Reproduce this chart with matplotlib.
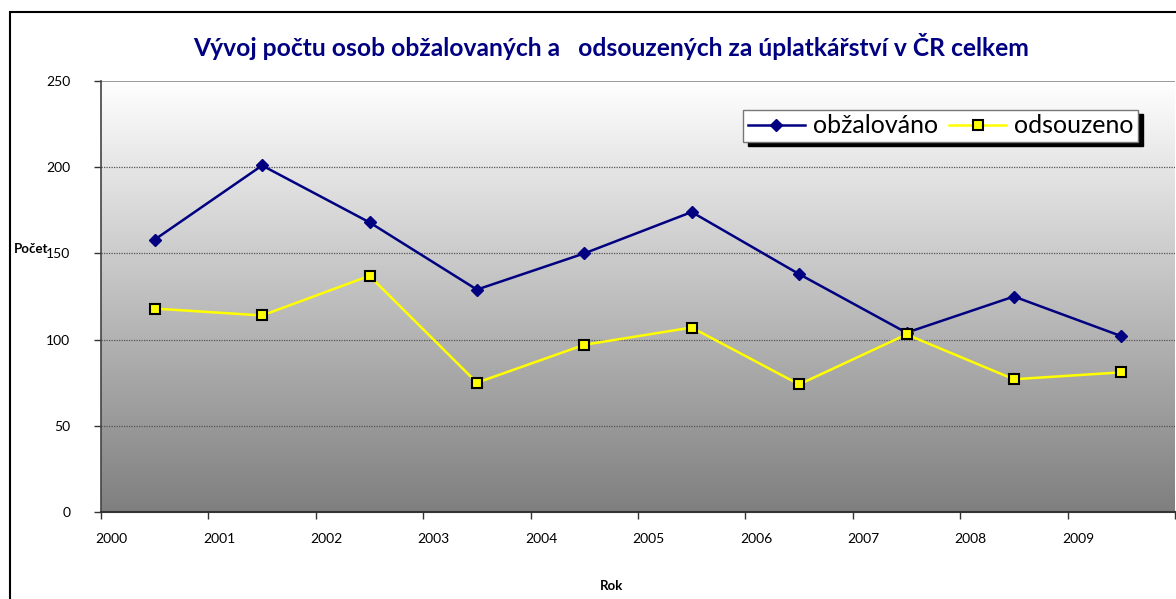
import matplotlib
matplotlib.use("Agg")
import matplotlib.pyplot as plt
import numpy as np
from matplotlib.patches import Rectangle
from matplotlib.colors import LinearSegmentedColormap
import matplotlib.transforms as mtransforms

years = ["2000", "2001", "2002", "2003", "2004", "2005", "2006", "2007", "2008", "2009"]
obzalovano = [158, 201, 168, 129, 150, 174, 138, 104, 125, 102]
odsouzeno = [118, 114, 137, 75, 97, 107, 74, 103, 77, 81]
yticks = [0, 50, 100, 150, 200, 250]

title = "Vývoj počtu osob obžalovaných a   odsouzených za úplatkářství v ČR celkem"
FONT = "Lato"
W, H = 1176, 599

fig = plt.figure(figsize=(W / 100, H / 100), dpi=100)
fig.patch.set_facecolor("white")

# outer chart border
fig.patches.append(Rectangle((10 / W, -0.1), 1.2, (H - 12) / H + 0.1,
                             transform=fig.transFigure, fill=False,
                             edgecolor="black", linewidth=1.5, zorder=0))

ax = fig.add_axes([101 / W, (H - 512) / H, (1175 - 101) / W, (512 - 81) / H])
n = len(years)
ax.set_xlim(0, n)
ax.set_ylim(0, 250)

# gradient background
grad = np.linspace(0, 1, 256).reshape(-1, 1)
cmap = LinearSegmentedColormap.from_list("g", ["#7f7f7f", "#ffffff"])
ax.imshow(grad, aspect="auto", cmap=cmap, extent=[0, n, 0, 250], origin="lower", zorder=0)

for v in yticks[1:-1]:
    ax.axhline(v, color="#555555", linewidth=0.9, linestyle=(0, (1, 1)), zorder=1)
ax.axhline(250, color="#888888", linewidth=1.2, zorder=1)

x = np.arange(n) + 0.5
ax.plot(x, obzalovano, color="#000080", linewidth=1.8, marker="D", markersize=6,
        markerfacecolor="#000080", markeredgecolor="#000080", label="obžalováno", zorder=3)
ax.plot(x, odsouzeno, color="#ffff00", linewidth=1.8, marker="s", markersize=7,
        markerfacecolor="#ffff00", markeredgecolor="black", markeredgewidth=1.5,
        label="odsouzeno", zorder=3)

ax.set_xticks(np.arange(n + 1))
ax.set_xticklabels(years + [""])
for lbl in ax.get_xticklabels():
    lbl.set_horizontalalignment("left")
ax.set_yticks(yticks)
ax.tick_params(axis="both", direction="out", length=5, width=1, colors="#333333",
               labelcolor="black", labelsize=10)
ax.tick_params(axis="x", pad=10)
ax.tick_params(axis="y", pad=17)
for lbl in ax.get_xticklabels() + ax.get_yticklabels():
    lbl.set_fontfamily(FONT)
offset = mtransforms.ScaledTranslation(-4 / 72, 0, fig.dpi_scale_trans)
for lbl in ax.get_xticklabels():
    lbl.set_transform(lbl.get_transform() + offset)

ax.spines["top"].set_visible(False)
ax.spines["right"].set_visible(False)
ax.spines["left"].set_color("#444444")
ax.spines["bottom"].set_color("#333333")
ax.spines["left"].set_linewidth(1.2)
ax.spines["bottom"].set_linewidth(1.5)

fig.text(611 / W, 1 - 46 / H, title, ha="center", va="center", fontsize=17.7,
         fontweight="bold", color="#000080", fontfamily=FONT)
fig.text(14 / W, 1 - 249 / H, "Počet", ha="left", va="center", fontsize=9.5,
         fontweight="bold", fontfamily=FONT)
fig.text(612 / W, 1 - 586 / H, "Rok", ha="center", va="center", fontsize=9.5,
         fontweight="bold", fontfamily=FONT)

# legend with shadow
lx0, ly0 = 743, 110
leg = ax.legend(loc="upper left", bbox_to_anchor=(lx0 / W, 1 - ly0 / H),
                bbox_transform=fig.transFigure, ncol=2, frameon=True, fancybox=False,
                prop={"family": FONT, "size": 18}, handlelength=2.3, handletextpad=0.3,
                columnspacing=0.45, borderaxespad=0, borderpad=0.18, framealpha=1)
leg.get_frame().set_edgecolor("#777777")
leg.get_frame().set_linewidth(1.0)
leg.set_zorder(5)

fig.canvas.draw()
bb = leg.get_window_extent()
shadow = Rectangle((bb.x0 + 5, bb.y0 - 4), bb.width, bb.height, transform=None,
                   facecolor="black", edgecolor="black", zorder=4, clip_on=False)
ax.add_patch(shadow)

fig.savefig("out.png", dpi=100)
